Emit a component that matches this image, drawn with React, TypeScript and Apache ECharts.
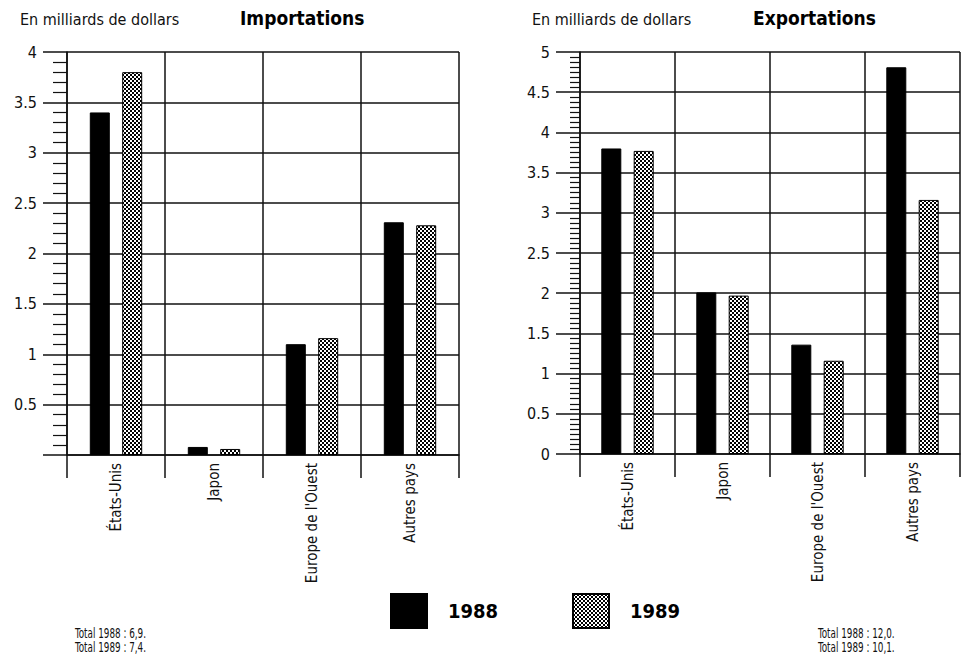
import React, { useEffect, useRef } from "react";
import * as echarts from "echarts";

// Regions and yearly values, in billions of dollars
const categories = ["États-Unis", "Japon", "Europe de l'Ouest", "Autres pays"];
const imports1988 = [3.4, 0.08, 1.1, 2.31];
const imports1989 = [3.8, 0.06, 1.16, 2.28];
const exports1988 = [3.8, 2.01, 1.36, 4.81];
const exports1989 = [3.77, 1.97, 1.16, 3.16];
const years = ["1988", "1989"];
const unitLabel = "En milliards de dollars";
const importTotals = ["Total 1988 : 6,9.", "Total 1989 : 7,4."];
const exportTotals = ["Total 1988 : 12,0.", "Total 1989 : 10,1."];

const FONT = "'Liberation Sans Narrow', 'DejaVu Sans Condensed', 'Roboto Condensed', sans-serif";
const INK = "#111";

function makeDotPattern(): HTMLCanvasElement {
  const c = document.createElement("canvas");
  c.width = 4;
  c.height = 4;
  const ctx = c.getContext("2d")!;
  ctx.fillStyle = "#ffffff";
  ctx.fillRect(0, 0, 4, 4);
  ctx.fillStyle = "#000000";
  ctx.fillRect(0, 0, 2, 2);
  ctx.fillRect(2, 2, 2, 2);
  return c;
}

export default function App() {
  const ref = useRef<HTMLDivElement>(null);

  useEffect(() => {
    if (!ref.current) return;
    const chart = echarts.init(ref.current, null, { renderer: "svg" });
    const pattern = { image: makeDotPattern(), repeat: "repeat" as const };

    const grids = [
      { left: 67, top: 52, width: 392, height: 403 },
      { left: 580, top: 52, width: 380, height: 402 },
    ];

    const xAxis = grids.map((_, i) => ({
      type: "category",
      gridIndex: i,
      data: categories,
      axisLine: { show: true, lineStyle: { color: INK, width: 1.5 } },
      axisTick: { show: true, length: 23, lineStyle: { color: INK, width: 1.5 } },
      splitLine: { show: true, lineStyle: { color: INK, width: 1.5 } },
      axisLabel: {
        rotate: 90,
        margin: 8,
        color: INK,
        fontFamily: FONT,
        fontSize: 15,
      },
    }));

    const yMax = [4, 5];
    const minorSplits = [5, 8];
    const minorLens = [14, 10];
    const yAxis = grids.map((_, i) => ({
      type: "value",
      gridIndex: i,
      min: 0,
      max: yMax[i],
      interval: 0.5,
      axisLine: { show: true, lineStyle: { color: INK, width: 1.5 } },
      axisTick: { show: true, length: 24, lineStyle: { color: INK, width: 1.5 } },
      minorTick: {
        show: true,
        splitNumber: minorSplits[i],
        length: minorLens[i],
        lineStyle: { color: INK, width: 1.2 },
      },
      splitLine: { show: true, lineStyle: { color: INK, width: 1.5 } },
      axisLabel: {
        margin: 30,
        color: INK,
        fontFamily: FONT,
        fontSize: 16,
        formatter: (v: number) => (i === 0 && v === 0 ? "" : String(v)),
      },
    }));

    const blackStyle = { color: "#000", borderColor: "#000", borderWidth: 1 };
    const dotStyle = { color: pattern, borderColor: "#000", borderWidth: 1 };

    const barCommon = { type: "bar", barWidth: 20, barGap: "62%" };
    const series = [
      { ...barCommon, name: years[0], xAxisIndex: 0, yAxisIndex: 0, data: imports1988, itemStyle: blackStyle },
      { ...barCommon, name: years[1], xAxisIndex: 0, yAxisIndex: 0, data: imports1989, itemStyle: dotStyle },
      { ...barCommon, name: years[0], xAxisIndex: 1, yAxisIndex: 1, data: exports1988, itemStyle: blackStyle },
      { ...barCommon, name: years[1], xAxisIndex: 1, yAxisIndex: 1, data: exports1989, itemStyle: dotStyle },
    ];

    const legendCommon = {
      orient: "horizontal",
      icon: "rect",
      itemWidth: 36,
      itemHeight: 34,
      top: 593,
      padding: 0,
      selectedMode: false,
      textStyle: {
        fontFamily: FONT,
        fontWeight: "bold",
        fontSize: 20,
        color: "#000",
        padding: [0, 0, 0, 16],
      },
    };

    const unitText = (x: number) => ({
      type: "text",
      left: x,
      top: 11,
      style: { text: unitLabel, fontFamily: FONT, fontSize: 16, fill: INK },
    });

    // Two-line totals note, squeezed horizontally to a narrow face
    const totalsText = (x: number, lines: string[]) => ({
      type: "text",
      x,
      y: 626,
      scaleX: 0.7,
      style: {
        text: lines.join("\n"),
        fontFamily: FONT,
        fontSize: 14,
        lineHeight: 14,
        fill: INK,
      },
    });

    const titleStyle = { fontFamily: FONT, fontWeight: "bold", fontSize: 19, color: "#000" };

    chart.setOption({
      animation: false,
      backgroundColor: "#fff",
      title: [
        { text: "Importations", left: 240, top: 8, padding: 0, textStyle: titleStyle },
        { text: "Exportations", left: 753, top: 8, padding: 0, textStyle: titleStyle },
      ],
      legend: [
        { ...legendCommon, left: 390, data: [years[0]] },
        { ...legendCommon, left: 572, data: [years[1]] },
      ],
      grid: grids,
      xAxis,
      yAxis,
      series,
      graphic: [
        unitText(20),
        unitText(532),
        totalsText(75, importTotals),
        totalsText(818, exportTotals),
      ],
    });

    return () => chart.dispose();
  }, []);

  return (
    <div
      ref={ref}
      style={{ position: "absolute", left: 0, top: 0, width: 965, height: 668 }}
    />
  );
}
